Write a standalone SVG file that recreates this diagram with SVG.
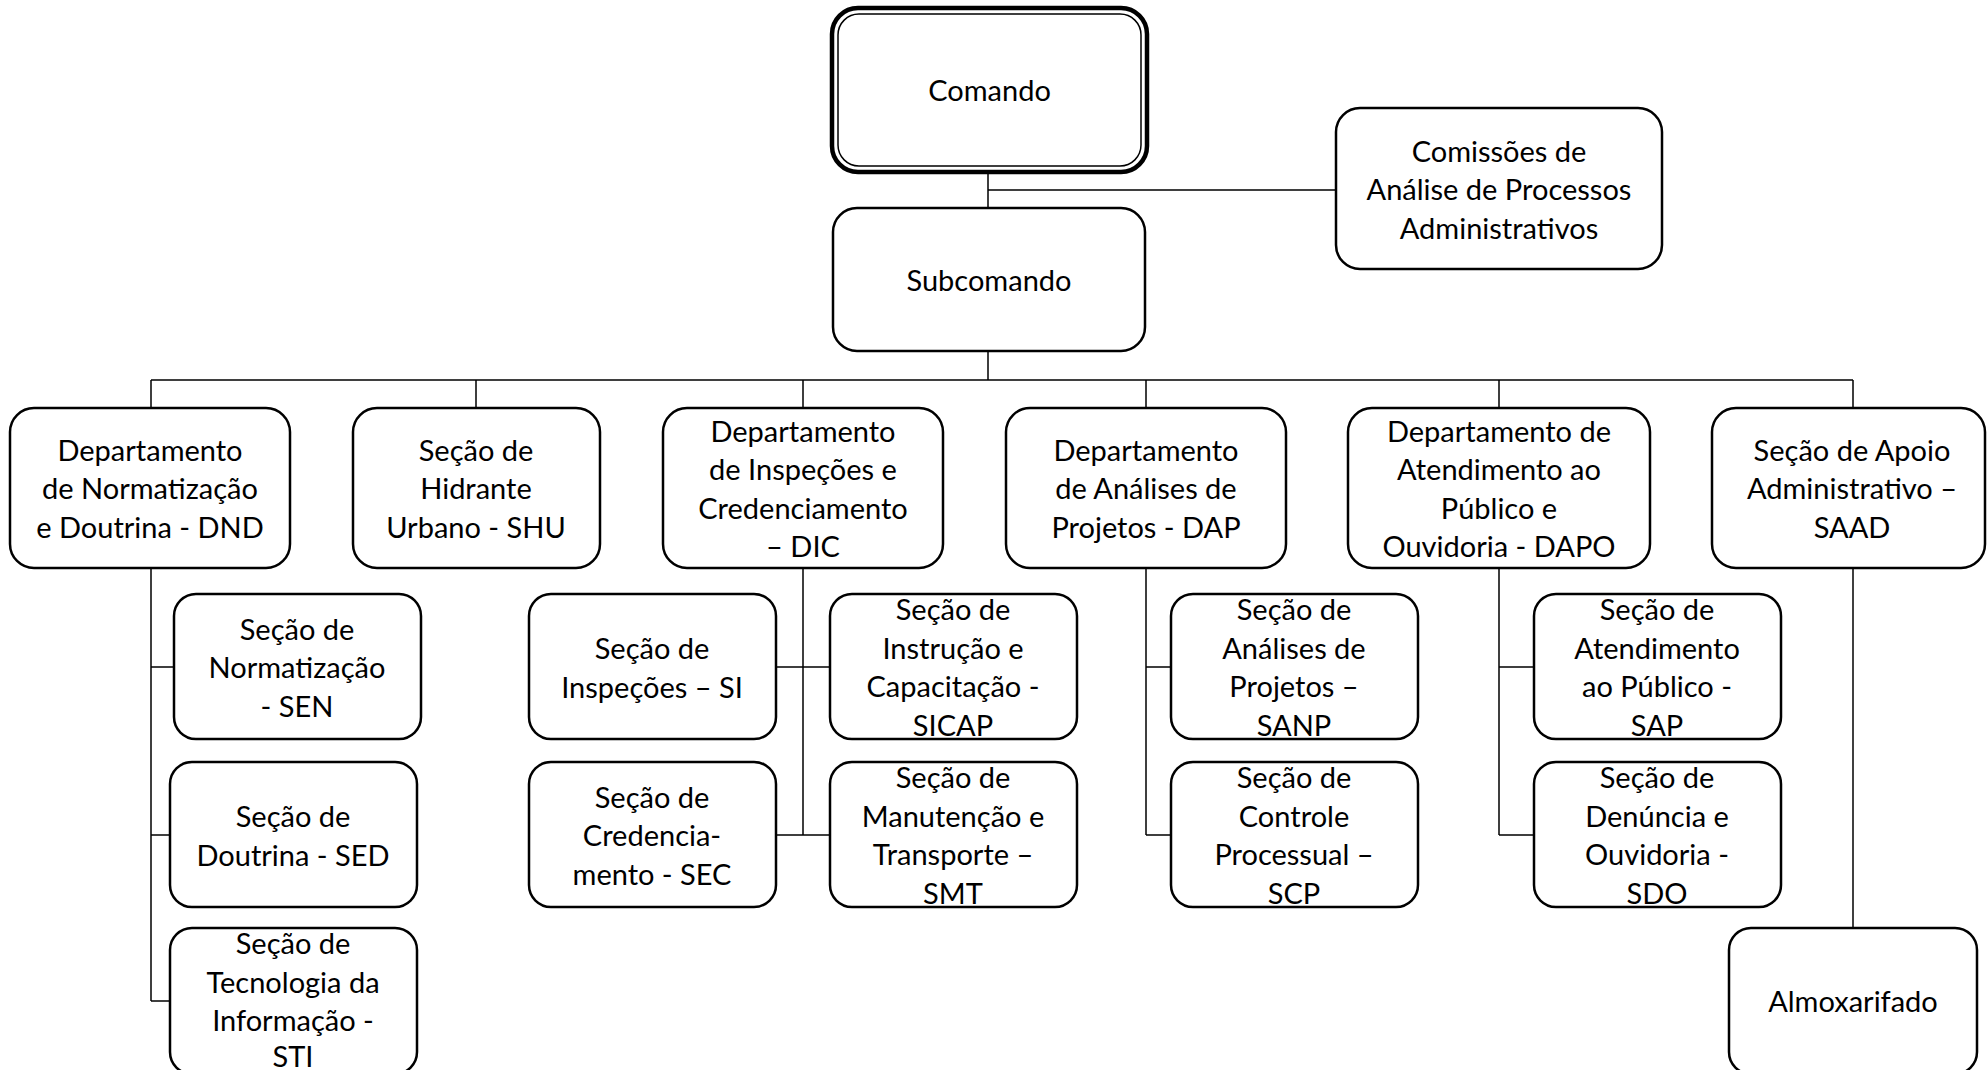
<svg xmlns="http://www.w3.org/2000/svg" width="1987" height="1070" viewBox="0 0 1987 1070">
<style>
.box{fill:#fff;stroke:#000;stroke-width:2.5}
.con{fill:none;stroke:#000;stroke-width:1.5}
text{font-family:Lato,"Liberation Sans",sans-serif;font-size:29px;fill:#000;text-anchor:middle}
</style>
<rect width="1987" height="1070" fill="#fff"/>
<g id="connectors" class="con">
<path d="M988 172V208M988 190H1336M988 351V380M151 380H1853M151 380V408M476 380V408M803 380V408M1146 380V408M1499 380V408M1853 380V408"/>
<path d="M151 568V1001M151 667H174M151 835H170M151 1001H170"/>
<path d="M803 568V835M776 667H830M776 835H830"/>
<path d="M1146 568V835M1146 667H1171M1146 835H1171"/>
<path d="M1499 568V835M1499 667H1534M1499 835H1534"/>
<path d="M1853 568V928"/>
</g>
<g id="comando">
<rect x="832" y="8" width="315" height="164" rx="26" fill="#fff" stroke="#000" stroke-width="4.5"/>
<rect x="838" y="14" width="303" height="152" rx="21" fill="none" stroke="#000" stroke-width="1.5"/>
<text x="989.5" y="101">Comando</text>
</g>
<g id="subcomando">
<rect class="box" x="833" y="208" width="312" height="143" rx="24"/>
<text x="989" y="291">Subcomando</text>
</g>
<g id="comissoes">
<rect class="box" x="1336" y="108" width="326" height="161" rx="24"/>
<text x="1499" y="162">Comissões de</text>
<text x="1499" y="200">Análise de Processos</text>
<text x="1499" y="239">Administrativos</text>
</g>
<g id="dnd">
<rect class="box" x="10" y="408" width="280" height="160" rx="24"/>
<text x="150" y="461">Departamento</text>
<text x="150" y="499">de Normatização</text>
<text x="150" y="538">e Doutrina - DND</text>
</g>
<g id="shu">
<rect class="box" x="353" y="408" width="247" height="160" rx="24"/>
<text x="476" y="461">Seção de</text>
<text x="476" y="499">Hidrante</text>
<text x="476" y="538">Urbano - SHU</text>
</g>
<g id="dic">
<rect class="box" x="663" y="408" width="280" height="160" rx="24"/>
<text x="803" y="442">Departamento</text>
<text x="803" y="480">de Inspeções e</text>
<text x="803" y="519">Credenciamento</text>
<text x="803" y="557">– DIC</text>
</g>
<g id="dap">
<rect class="box" x="1006" y="408" width="280" height="160" rx="24"/>
<text x="1146" y="461">Departamento</text>
<text x="1146" y="499">de Análises de</text>
<text x="1146" y="538">Projetos - DAP</text>
</g>
<g id="dapo">
<rect class="box" x="1348" y="408" width="302" height="160" rx="24"/>
<text x="1499" y="442">Departamento de</text>
<text x="1499" y="480">Atendimento ao</text>
<text x="1499" y="519">Público e</text>
<text x="1499" y="557">Ouvidoria - DAPO</text>
</g>
<g id="saad">
<rect class="box" x="1712" y="408" width="273" height="160" rx="24"/>
<text x="1852" y="461">Seção de Apoio</text>
<text x="1852" y="499">Administrativo –</text>
<text x="1852" y="538">SAAD</text>
</g>
<g id="sen">
<rect class="box" x="174" y="594" width="247" height="145" rx="22"/>
<text x="297" y="640">Seção de</text>
<text x="297" y="678">Normatização</text>
<text x="297" y="717">- SEN</text>
</g>
<g id="sed">
<rect class="box" x="170" y="762" width="247" height="145" rx="22"/>
<text x="293" y="827">Seção de</text>
<text x="293" y="866">Doutrina - SED</text>
</g>
<g id="sti">
<rect class="box" x="170" y="928" width="247" height="146" rx="22"/>
<text x="293" y="954">Seção de</text>
<text x="293" y="993">Tecnologia da</text>
<text x="293" y="1031">Informação -</text>
<text x="293" y="1067">STI</text>
</g>
<g id="si">
<rect class="box" x="529" y="594" width="247" height="145" rx="22"/>
<text x="652" y="659">Seção de</text>
<text x="652" y="698">Inspeções – SI</text>
</g>
<g id="sicap">
<rect class="box" x="830" y="594" width="247" height="145" rx="22"/>
<text x="953" y="620">Seção de</text>
<text x="953" y="659">Instrução e</text>
<text x="953" y="697">Capacitação -</text>
<text x="953" y="736">SICAP</text>
</g>
<g id="sec">
<rect class="box" x="529" y="762" width="247" height="145" rx="22"/>
<text x="652" y="808">Seção de</text>
<text x="652" y="846">Credencia-</text>
<text x="652" y="885">mento - SEC</text>
</g>
<g id="smt">
<rect class="box" x="830" y="762" width="247" height="145" rx="22"/>
<text x="953" y="788">Seção de</text>
<text x="953" y="827">Manutenção e</text>
<text x="953" y="865">Transporte –</text>
<text x="953" y="904">SMT</text>
</g>
<g id="sanp">
<rect class="box" x="1171" y="594" width="247" height="145" rx="22"/>
<text x="1294" y="620">Seção de</text>
<text x="1294" y="659">Análises de</text>
<text x="1294" y="697">Projetos –</text>
<text x="1294" y="736">SANP</text>
</g>
<g id="scp">
<rect class="box" x="1171" y="762" width="247" height="145" rx="22"/>
<text x="1294" y="788">Seção de</text>
<text x="1294" y="827">Controle</text>
<text x="1294" y="865">Processual –</text>
<text x="1294" y="904">SCP</text>
</g>
<g id="sap">
<rect class="box" x="1534" y="594" width="247" height="145" rx="22"/>
<text x="1657" y="620">Seção de</text>
<text x="1657" y="659">Atendimento</text>
<text x="1657" y="697">ao Público -</text>
<text x="1657" y="736">SAP</text>
</g>
<g id="sdo">
<rect class="box" x="1534" y="762" width="247" height="145" rx="22"/>
<text x="1657" y="788">Seção de</text>
<text x="1657" y="827">Denúncia e</text>
<text x="1657" y="865">Ouvidoria -</text>
<text x="1657" y="904">SDO</text>
</g>
<g id="almoxarifado">
<rect class="box" x="1729" y="928" width="248" height="146" rx="22"/>
<text x="1853" y="1012">Almoxarifado</text>
</g>
</svg>
